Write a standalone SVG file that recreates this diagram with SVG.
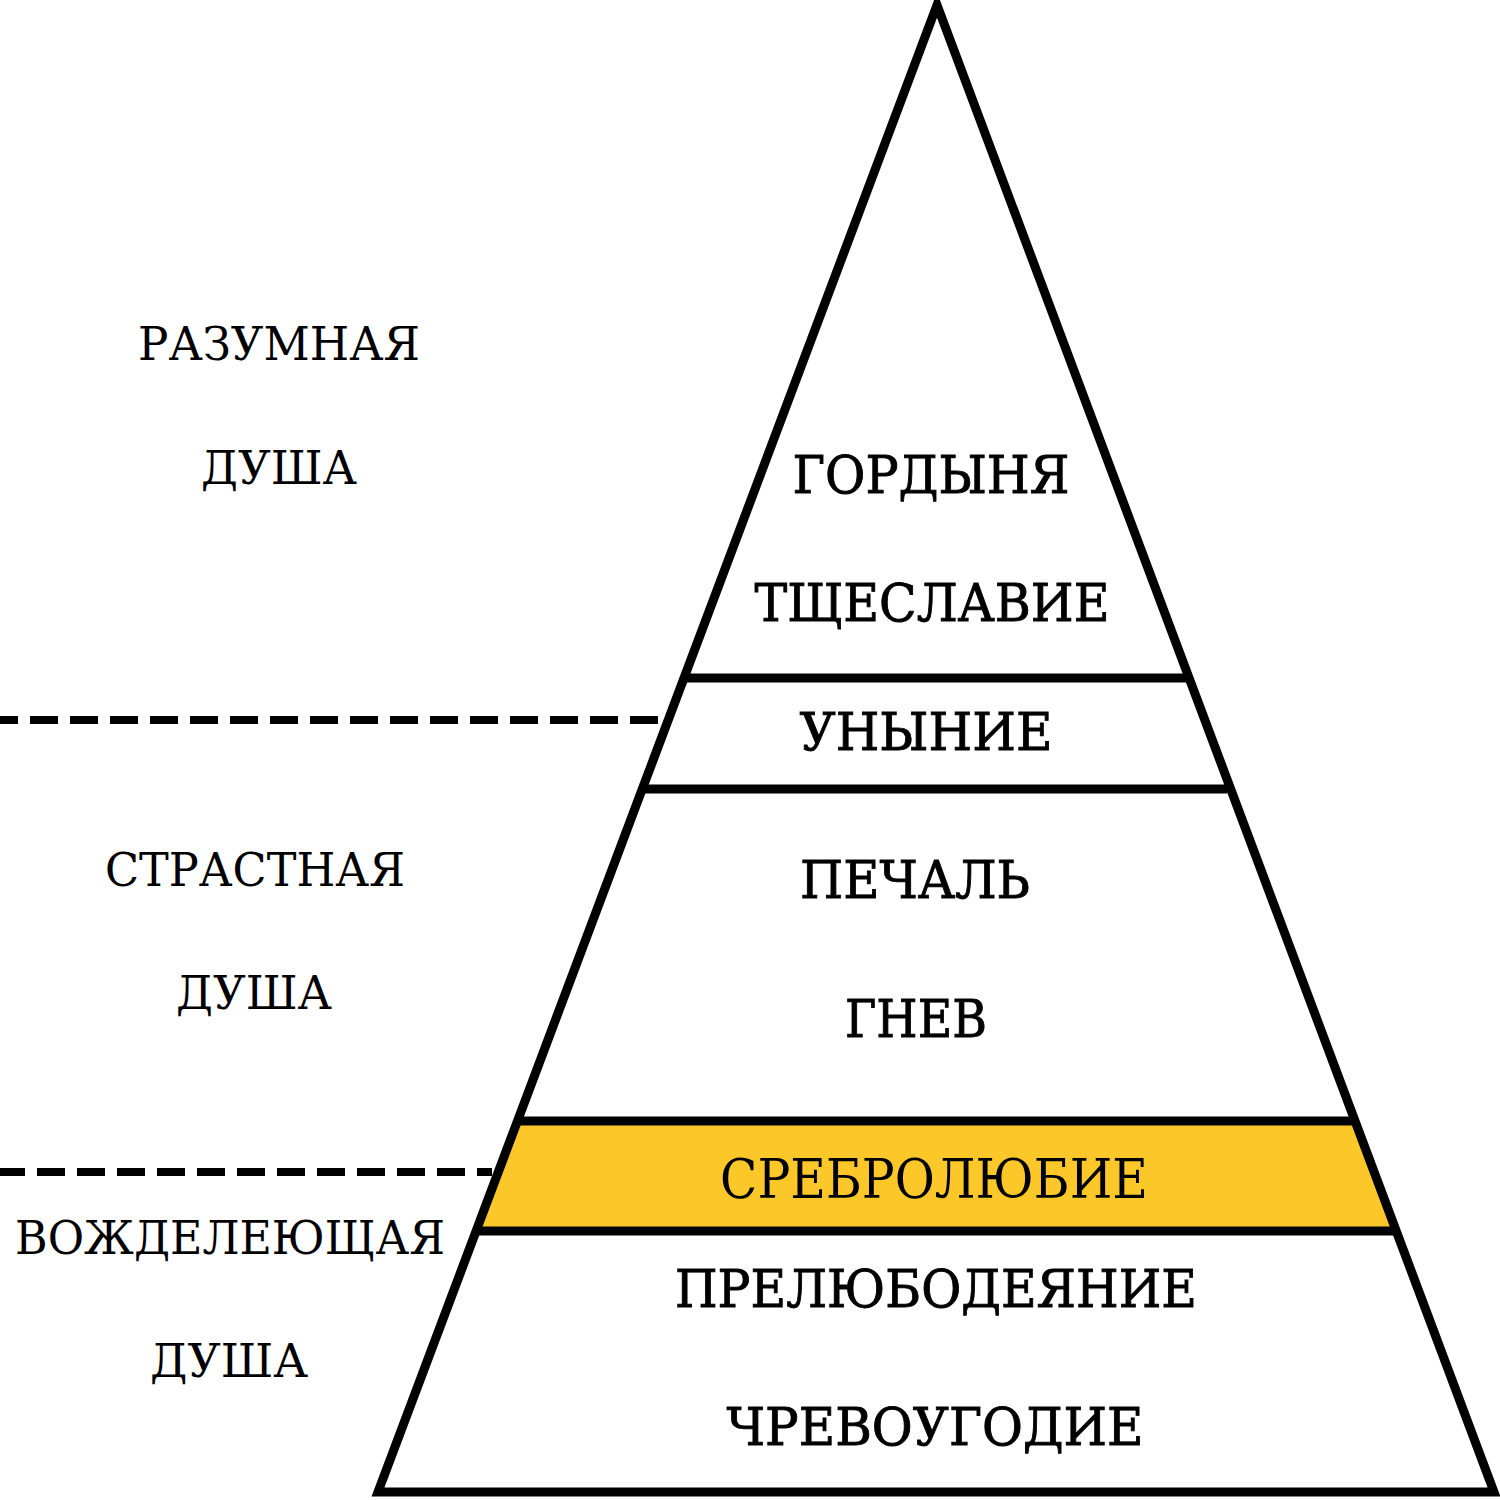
<svg xmlns="http://www.w3.org/2000/svg" width="1500" height="1500" viewBox="0 0 1500 1500">
<style>
.lbl{font-family:"DejaVu Serif","Liberation Serif",serif;fill:#000;text-anchor:middle}
.side{font-size:46px}
.pyr{font-size:52px;stroke:#000;stroke-width:0.9px}
.band{stroke:#000;stroke-width:9;fill:none}
.dash{stroke:#000;stroke-width:8;stroke-dasharray:28 12;fill:none}
</style>
<rect width="1500" height="1500" fill="#fff"/>
<g id="yellow-band">
<polygon points="517.5,1121 1355,1121 1396.2,1231 476.1,1231" fill="#FCC829"/>
</g>
<g id="connectors">
<line class="dash" x1="-10" y1="720" x2="662" y2="720"/>
<line class="dash" x1="-3" y1="1172" x2="492" y2="1172"/>
<line class="band" x1="684" y1="678" x2="1189" y2="678"/>
<line class="band" x1="642" y1="789" x2="1227" y2="789"/>
<line class="band" x1="517" y1="1121" x2="1355" y2="1121"/>
<line class="band" x1="476" y1="1231" x2="1396" y2="1231"/>
</g>
<g id="pyramid">
<polygon points="937,5 378,1492 1494,1492" fill="none" stroke="#000" stroke-width="9" stroke-linejoin="miter" stroke-miterlimit="20"/>
</g>
<g id="side-labels">
<text class="lbl side" x="279" y="360" textLength="282" lengthAdjust="spacingAndGlyphs">РАЗУМНАЯ</text>
<text class="lbl side" x="279" y="484" textLength="156" lengthAdjust="spacingAndGlyphs">ДУША</text>
<text class="lbl side" x="255" y="886" textLength="300" lengthAdjust="spacingAndGlyphs">СТРАСТНАЯ</text>
<text class="lbl side" x="254" y="1009" textLength="156" lengthAdjust="spacingAndGlyphs">ДУША</text>
<text class="lbl side" x="230" y="1254" textLength="430" lengthAdjust="spacingAndGlyphs">ВОЖДЕЛЕЮЩАЯ</text>
<text class="lbl side" x="229" y="1377" textLength="158" lengthAdjust="spacingAndGlyphs">ДУША</text>
</g>
<g id="pyramid-labels">
<text class="lbl pyr" x="931" y="493" textLength="277" lengthAdjust="spacingAndGlyphs">ГОРДЫНЯ</text>
<text class="lbl pyr" x="932" y="621" textLength="355" lengthAdjust="spacingAndGlyphs">ТЩЕСЛАВИЕ</text>
<text class="lbl pyr" x="926" y="750" textLength="253" lengthAdjust="spacingAndGlyphs">УНЫНИЕ</text>
<text class="lbl pyr" x="915" y="898" textLength="230" lengthAdjust="spacingAndGlyphs">ПЕЧАЛЬ</text>
<text class="lbl pyr" x="916" y="1037" textLength="142" lengthAdjust="spacingAndGlyphs">ГНЕВ</text>
<text class="lbl" x="934" y="1198" font-size="54" textLength="428" lengthAdjust="spacingAndGlyphs">СРЕБРОЛЮБИЕ</text>
<text class="lbl pyr" x="936" y="1307" textLength="522" lengthAdjust="spacingAndGlyphs">ПРЕЛЮБОДЕЯНИЕ</text>
<text class="lbl pyr" x="935" y="1445" textLength="417" lengthAdjust="spacingAndGlyphs">ЧРЕВОУГОДИЕ</text>
</g>
</svg>
